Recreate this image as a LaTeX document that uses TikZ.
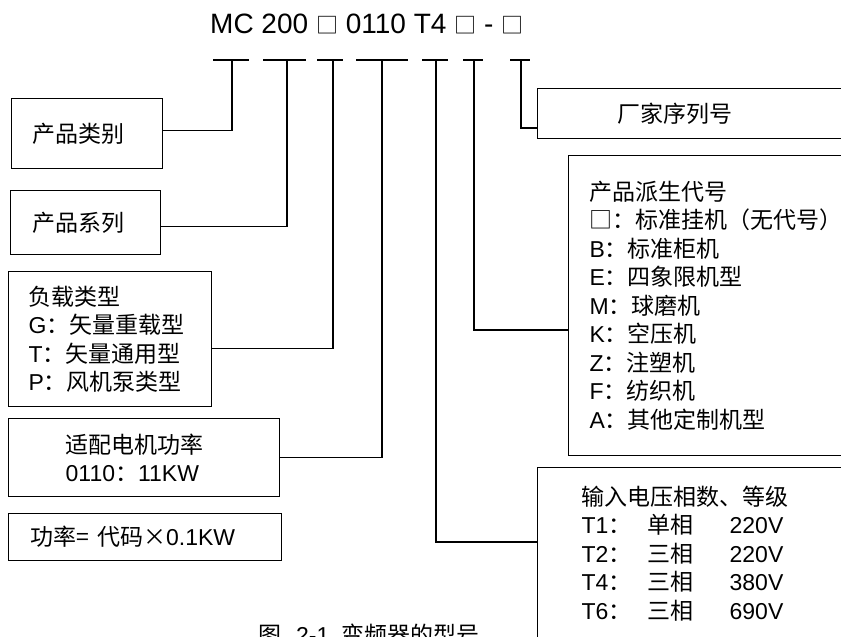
\documentclass[tikz,border=0pt]{standalone}
\usepackage{fontspec}
\setmainfont{Liberation Sans}
\newfontfamily\cjk{Noto Sans CJK SC}
\usetikzlibrary{positioning}
\newcommand\zh[1]{{\cjk #1}}
\newcommand\sq{{\fontsize{22}{22}\cjk □}}
\newcommand\trow[3]{\makebox[66pt][l]{#1\zh{：}}\makebox[82pt][l]{\zh{#2}}#3}
\tikzset{%
  box/.style={draw, line width=1.3pt, rectangle, anchor=north west, inner ysep=0pt,
    align=left, font=\fontsize{23}{28.5}\selectfont},
  edge/.style={line width=1.2pt},
  bar/.style={line width=1.8pt},
}

\begin{document}
\begin{tikzpicture}[x=1pt,y=-1pt]
  \useasboundingbox (0,0) rectangle (841,637);

  \node[anchor=base west, inner sep=0pt, font=\fontsize{28}{32}\selectfont] (title) at (210,34)
    {MC 200 \sq{} 0110 T4 \sq{} - \sq};

  \foreach \n/\l/\s/\r in {t1/213/232/249, t2/263/287/306, t3/317/333/343, t4/356/382/408,
                           t5/422/436/448, t6/463/474/483, t7/510/521/530}{
    \coordinate (\n) at (\s,60);
    \draw[bar] (\l,60) -- (\r,60);
  }

  % left column
  \node[box, minimum width=151pt, minimum height=70pt, inner xsep=21pt, text width=109pt] (kind) at (11,98)
    {\zh{产品类别}};
  \node[box, minimum width=150pt, minimum height=64pt, inner xsep=22pt, text width=106pt] (series) at (10,190)
    {\zh{产品系列}};
  \node[box, minimum width=203pt, minimum height=135pt, inner xsep=20pt, text width=163pt] (load) at (8,271)
    {\zh{负载类型}\\G\zh{：矢量重载型}\\T\zh{：矢量通用型}\\P\zh{：风机泵类型}};
  \node[box, minimum width=271pt, minimum height=78pt, inner xsep=57pt, text width=157pt] (power) at (8,418)
    {\zh{适配电机功率}\\0110\zh{：}11KW};
  \node[box, minimum width=273pt, minimum height=47pt, inner xsep=22pt, text width=229pt] (rule) at (8,513)
    {\zh{功率= 代码×}0.1KW};

  % right column
  \node[box, minimum width=343pt, minimum height=50pt, inner xsep=80pt, text width=183pt] (maker) at (537,88)
    {\zh{厂家序列号}};
  \node[box, minimum width=312pt, minimum height=300pt, inner xsep=21pt, text width=270pt] (derive) at (568,155)
    {\zh{产品派生代号}\\\zh{□：标准挂机（无代号）}\\B\zh{：标准柜机}\\E\zh{：四象限机型}\\M\zh{：球磨机}\\
     K\zh{：空压机}\\Z\zh{：注塑机}\\F\zh{：纺织机}\\A\zh{：其他定制机型}};
  \node[box, minimum width=343pt, minimum height=172pt, inner xsep=44pt, text width=255pt] (volt) at (537,467)
    {\zh{输入电压相数、等级}\\\trow{T1}{单相}{220V}\\\trow{T2}{三相}{220V}\\\trow{T4}{三相}{380V}\\\trow{T6}{三相}{690V}};

  \node[anchor=base west, inner sep=0pt, font=\fontsize{23}{23}\selectfont] (caption) at (258,643)
    {\zh{图}\hspace{15pt}2-1\hspace{12pt}\zh{变频器的型号}};

  \draw[edge] (t1) |- ([yshift=3pt]kind.east);
  \draw[edge] (t2) |- ([yshift=-4pt]series.east);
  \draw[edge] (t3) |- ([yshift=-9.5pt]load.east);
  \draw[edge] (t4) |- (power.east);
  \draw[edge] (t5) |- ([yshift=-75pt]volt.north west);
  \draw[edge] (t6) |- ([yshift=-175pt]derive.north west);
  \draw[edge] (t7) |- ([yshift=-40pt]maker.north west);
\end{tikzpicture}
\end{document}
